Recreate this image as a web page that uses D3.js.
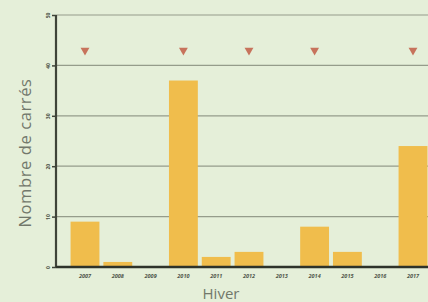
<!DOCTYPE html>
<html><head><meta charset="utf-8">
<script src="https://cdn.jsdelivr.net/npm/d3@7"></script>
<style>html,body{margin:0;padding:0;background:#e5efd9;}svg{display:block;}</style>
</head><body>
<svg id="c" width="428" height="302"></svg>
<script>
const years = ["2007","2008","2009","2010","2011","2012","2013","2014","2015","2016","2017"];
const counts = [9, 1, 0, 37, 2, 3, 0, 8, 3, 0, 24];
const markerYears = ["2007","2010","2012","2014","2017"];
const markerLevel = 43;
const yTicks = [0, 10, 20, 30, 40, 50];

const svg = d3.select("#c");
const W = 428, H = 302;
svg.append("rect").attr("width", W).attr("height", H).attr("fill", "#e5efd9");

const x0 = 56, yTop = 15, yBot = 267;
const x = d3.scaleBand().domain(years).range([68.6, 429.4]).paddingInner(0.12).paddingOuter(0.06);
const y = d3.scaleLinear().domain([0, 50]).range([yBot, yTop]);

// gridlines
svg.append("g").selectAll("line").data(yTicks.filter(d => d > 0)).join("line")
  .attr("x1", x0).attr("x2", W).attr("y1", d => y(d)).attr("y2", d => y(d))
  .attr("stroke", "#959c8b").attr("stroke-width", 1.2);

// bars
svg.append("g").selectAll("rect").data(years.map((yr, i) => ({yr, v: counts[i]})).filter(d => d.v > 0)).join("rect")
  .attr("x", d => x(d.yr)).attr("width", x.bandwidth())
  .attr("y", d => y(d.v)).attr("height", d => y(0) - y(d.v))
  .attr("fill", "#f0bd4c");

// markers
const tri = d3.symbol().type(d3.symbolTriangle).size(34);
svg.append("g").selectAll("path").data(markerYears).join("path")
  .attr("d", tri)
  .attr("transform", d => `translate(${x(d) + x.bandwidth()/2},${y(markerLevel)}) rotate(180)`)
  .attr("fill", "#c7735c");

// y axis
const yAxis = d3.axisLeft(y).tickValues(yTicks).tickSize(4).tickPadding(3);
const gy = svg.append("g").attr("transform", `translate(${x0},0)`).call(yAxis);
gy.select(".domain").attr("stroke", "#3f4439").attr("stroke-width", 2.2).attr("d", `M0,${yTop}V${yBot}`);
gy.selectAll(".tick line").attr("stroke", "#3f4439").attr("stroke-width", 1.5);
gy.selectAll(".tick text").attr("font-family", "Open Sans").attr("font-size", 5).attr("font-weight", "bold")
  .attr("fill", "#4d5347").attr("text-anchor", "middle")
  .attr("x", 0).attr("y", -8).attr("dy", "0.35em").attr("transform", "rotate(-90)");

// x axis
const xAxis = d3.axisBottom(x).tickSize(0).tickPadding(7);
const gx = svg.append("g").attr("transform", `translate(0,${yBot})`).call(xAxis);
gx.select(".domain").attr("stroke", "#2e332a").attr("stroke-width", 2.4).attr("d", `M${x0},0H${W}`);
gx.selectAll(".tick text").attr("font-family", "Open Sans").attr("font-size", 5.5).attr("font-style", "italic")
  .attr("font-weight", "bold").attr("fill", "#50564a");

// titles
svg.append("text").attr("x", 221).attr("y", 299).attr("text-anchor", "middle")
  .attr("font-family", "Open Sans").attr("font-size", 15).attr("fill", "#72786b").text("Hiver");
svg.append("text").attr("transform", "translate(31,153) rotate(-90)").attr("text-anchor", "middle")
  .attr("font-family", "Open Sans").attr("font-size", 16.5).attr("letter-spacing", 0.6)
  .attr("fill", "#72786b").text("Nombre de carrés");
</script>
</body></html>
